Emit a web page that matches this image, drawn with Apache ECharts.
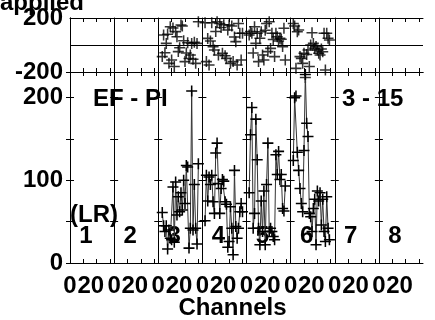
<!DOCTYPE html>
<html><head><meta charset="utf-8">
<script src="https://cdn.jsdelivr.net/npm/echarts@6/dist/echarts.min.js"></script>
<style>html,body{margin:0;padding:0;background:#fff}#c{width:435px;height:320px}</style>
</head><body><div id="c"></div>
<script>
// ---- data ----
const groupNames = ['1', '2', '3', '4', '5', '6', '7', '8'];
const channelsPerGroup = 33;
const xLabelChannels = [0, 20];
const xTickChannels = [10, 20, 30];
const topYTicks = [-200, 0, 200];
const bottomYLabels = [0, 100, 200];

// amplitude (bottom panel), one value per channel starting at the group's first channel
const ampG3 = [61, 45, 38, 45, 17, 40, 30, 28, 92, 25, 98, 58, 80, 62, 85, 64, 100, 72, 118, 116, 18, 42, 208, 40, 95, 42, 23, 120];
const ampG4 = [51, 106, 75, 104, 95, 106, 74, 60, 133, 145, 96, 60, 90, 101, 99, 74, 71, 19, 26, 68, 42, 10, 112, 44, 30, 42, 62, 72, 62];
const ampG5 = [85, 155, 188, 42, 60, 174, 125, 42, 22, 75, 38, 87, 22, 95, 145, 38, 42, 38, 32, 28, 131, 107, 135, 101, 107, 66, 63, 93];
const ampG6 = [124, 200, 202, 134, 112, 90, 72, 62, 136, 228, 169, 153, 60, 56, 38, 66, 77, 22, 87, 75, 85, 46, 77, 38, 26, 80, 42, 28];

// phase (top panel)
const phaseG3 = [-86, 74, -57, 12, 80, -136, 135, -111, 126, -160, 99, 61, -49, -20, 148, 140, 32, -123, -60, 17, -100, -74, 12, -106, 20, -136, 12, 173];
const phaseG4 = [165, -123, 49, -148, 30, 165, -12, -37, 100, 172, -74, 160, 130, -61, 150, -80, -99, 111, 148, -136, 141, -123, 60, 25, -148, 160, 87, -111, 87];
const phaseG5 = [74, 100, 87, -60, 135, 12, 87, -123, 50, 98, -74, -111, 110, 160, -49, 172, -25, 87, 40, -86, 87, 61, 30, 50, 42, -12, 124, -111];
const phaseG6 = [160, 140, -173, 98, 111, -86, -99, -136, -61, -240, -70, -37, -160, 0, 91, 12, -25, -12, -37, -61, -74, -30, -50, 87, -185, 87, 50, 37];

const firstChannel = [3, 2, 2, 2];          // first channel of groups 3..6
const dataGroups = [3, 4, 5, 6];
const ampData = [ampG3, ampG4, ampG5, ampG6];
const phaseData = [phaseG3, phaseG4, phaseG5, phaseG6];

const panelTexts = ['EF - PI', '3 - 15', '(LR)'];
const titleText = 'applied';
const xName = 'Channels';

// ---- chart ----
const nG = groupNames.length;
const xMax = nG * channelsPerGroup;
const FONT = 'Liberation Sans';
const FS = 24;
const grids = [
  { left: 70, top: 18, width: 353, height: 54, outerBoundsMode: 'none', containLabel: false },
  { left: 70, top: 72, width: 353, height: 191, outerBoundsMode: 'none', containLabel: false }
];
const groupW = 353 / nG;

const tickVals = [], labelVals = [];
for (let g = 0; g < nG; g++) {
  xTickChannels.forEach(c => tickVals.push(g * channelsPerGroup + c));
  xLabelChannels.forEach(c => labelVals.push(g * channelsPerGroup + c));
}

const blk = { color: '#000', width: 1 };
function xa(grid, pos, labels) {
  return {
    type: 'value', gridIndex: grid, position: pos, min: 0, max: xMax,
    axisLine: { show: true, onZero: false, lineStyle: blk },
    axisTick: { show: true, inside: true, length: 4, customValues: tickVals, lineStyle: blk },
    splitLine: { show: false },
    axisLabel: labels ? {
      show: true, customValues: labelVals, margin: 11,
      formatter: v => {
        const r = Math.round(v - Math.floor(v / channelsPerGroup + 1e-9) * channelsPerGroup);
        return r === 0 ? '{a|0}' : '{b|' + r + '}';
      },
      rich: {
        a: { fontFamily: FONT, fontWeight: 'bold', fontSize: FS, color: '#000' },
        b: { fontFamily: FONT, fontWeight: 'bold', fontSize: FS, color: '#000', padding: [0, 12, 0, 0] }
      }
    } : { show: false },
    name: labels ? xName : '',
    nameLocation: 'middle', nameGap: 33, nameMoveOverlap: false,
    nameTextStyle: { fontFamily: FONT, fontWeight: 'bold', fontSize: FS, color: '#000', padding: [0, 28, 0, 0] }
  };
}
const xAxes = [xa(0, 'bottom', false), xa(0, 'top', false), xa(1, 'bottom', true), xa(1, 'top', false)];

const yLab = { show: true, margin: 7, fontFamily: FONT, fontWeight: 'bold', fontSize: FS, color: '#000', padding: [5, 0, 0, 0] };
const yAxes = [
  { type: 'value', gridIndex: 0, position: 'left', min: -200, max: 200, interval: 200,
    axisLine: { show: true, lineStyle: blk }, axisTick: { show: false },
    splitLine: { show: true, lineStyle: blk },
    axisLabel: Object.assign({}, yLab, { formatter: v => (topYTicks.includes(v) && v !== 0 ? String(v) : '') }) },
  { type: 'value', gridIndex: 0, position: 'right', min: -200, max: 200, interval: 200,
    axisLine: { show: true, lineStyle: blk }, axisTick: { show: false }, splitLine: { show: false }, axisLabel: { show: false } },
  { type: 'value', gridIndex: 1, position: 'left', min: 0, max: 231, interval: 50,
    axisLine: { show: true, lineStyle: blk }, axisTick: { show: true, inside: true, length: 4, lineStyle: blk },
    splitLine: { show: false },
    axisLabel: Object.assign({}, yLab, { formatter: v => (bottomYLabels.includes(v) ? String(v) : '') }) },
  { type: 'value', gridIndex: 1, position: 'right', min: 0, max: 231, interval: 50,
    axisLine: { show: true, lineStyle: blk }, axisTick: { show: true, inside: true, length: 4, lineStyle: blk },
    splitLine: { show: false }, axisLabel: { show: false } }
];
// group boundaries drawn as extra axes
for (let g = 1; g < nG; g++) {
  yAxes.push({ type: 'value', gridIndex: 0, position: 'left', offset: -groupW * g, min: -200, max: 200, interval: 200,
    axisLine: { show: true, lineStyle: blk }, axisTick: { show: false }, splitLine: { show: false }, axisLabel: { show: false } });
  [true, false].forEach(inside => yAxes.push({ type: 'value', gridIndex: 1, position: 'left', offset: -groupW * g,
    min: 0, max: 231, interval: 50,
    axisLine: { show: true, lineStyle: blk }, axisTick: { show: true, inside, length: 4, lineStyle: blk },
    splitLine: { show: false }, axisLabel: { show: false } }));
}

const plus = 'path://M0,4.3L10,4.3L10,5.7L0,5.7Z M4.3,0L5.7,0L5.7,10L4.3,10Z';
const series = [];
dataGroups.forEach((grp, k) => {
  const base = (grp - 1) * channelsPerGroup + firstChannel[k];
  series.push({
    type: 'line', xAxisIndex: 2, yAxisIndex: 2,
    data: ampData[k].map((v, i) => [base + i, v]),
    symbol: plus, symbolSize: 11, showSymbol: true,
    lineStyle: { color: '#333', width: 1 }, itemStyle: { color: '#000' },
    clip: false, silent: true
  });
  series.push({
    type: 'scatter', xAxisIndex: 0, yAxisIndex: 0,
    data: phaseData[k].map((v, i) => [base + i, v]),
    symbol: plus, symbolSize: 11, itemStyle: { color: '#000' }, clip: false, silent: true
  });
});

const txt = (s, x, y, align) => ({ type: 'text', x, y, silent: true,
  style: { text: s, fontFamily: FONT, fontWeight: 'bold', fontSize: FS, fill: '#000', align: align || 'left', verticalAlign: 'middle' } });
const graphics = [
  txt(titleText, 0, 3),
  txt(panelTexts[0], 93, 99),
  txt(panelTexts[1], 342, 99),
  txt(panelTexts[2], 70, 215),
  ];
groupNames.forEach((n, g) => graphics.push(txt(n, 70 + groupW * g + 16, 236, 'center')));

const chart = echarts.init(document.getElementById('c'), null, { renderer: 'canvas' });
chart.setOption({
  animation: false,
  backgroundColor: '#fff',
  grid: grids,
  xAxis: xAxes,
  yAxis: yAxes,
  series,
  graphic: graphics
});
</script></body></html>
